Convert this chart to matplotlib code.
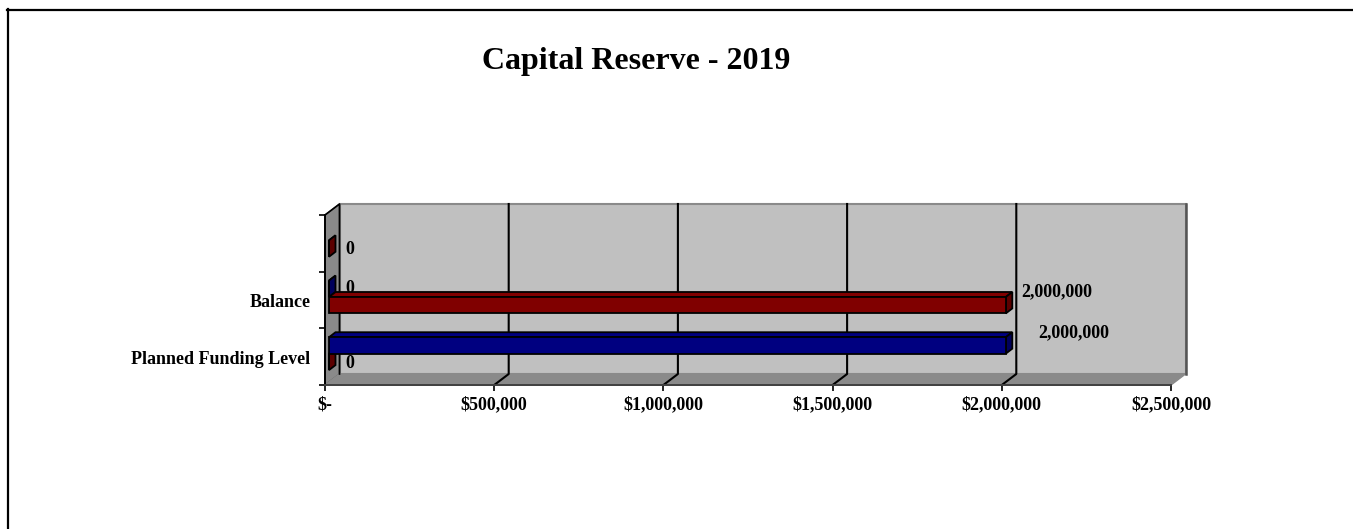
#!/usr/bin/env python3
"""
Capital Reserve bar chart in the old 3D spreadsheet look.
"""
import matplotlib
matplotlib.use('Agg')
import matplotlib.pyplot as plt
from matplotlib.lines import Line2D

categories = ['Planned Funding Level', 'Balance', '']
blue_values = [2000000, 0, None]
red_values = [0, 2000000, 0]
x_ticks = [0, 500000, 1000000, 1500000, 2000000, 2500000]
x_labels = ['$-', '$500,000', '$1,000,000', '$1,500,000', '$2,000,000',
            '$2,500,000']
title = 'Capital Reserve - 2019'

W, H = 1353, 529
LEFT, RIGHT, TOP, BOTTOM = 325, 1171, 215, 385

plt.rcParams['font.family'] = 'Liberation Serif'
plt.rcParams['font.weight'] = 'bold'

fig = plt.figure(figsize=(W / 100, H / 100), dpi=100)
ax = fig.add_axes([LEFT / W, 1 - BOTTOM / H, (RIGHT - LEFT) / W,
                   (BOTTOM - TOP) / H])
XMAX = x_ticks[-1]
YMAX = len(categories)
ax.set_xlim(0, XMAX)
ax.set_ylim(0, YMAX)

# one pixel in data units, the depth offsets below are given in pixels
ux = XMAX / (RIGHT - LEFT)
uy = YMAX / (BOTTOM - TOP)
WALL_DX, WALL_DY = 14.5 * ux, 11 * uy
BAR_DX, BAR_DY = 4 * ux, 3 * uy
BAR_DEPTH_X, BAR_DEPTH_Y = 6.5 * ux, 5 * uy
BAR_H = 0.29

for s in ['top', 'right']:
    ax.spines[s].set_visible(False)
ax.spines['left'].set_linewidth(1.4)
ax.spines['bottom'].set_linewidth(1.4)
ax.spines['bottom'].set_color('#404040')
ax.patch.set_visible(False)

# walls and floor
grey = '#8a8a8a'
ax.fill([WALL_DX, XMAX + WALL_DX, XMAX + WALL_DX, WALL_DX],
        [WALL_DY, WALL_DY, YMAX + WALL_DY, YMAX + WALL_DY],
        facecolor='#c0c0c0', edgecolor=grey, linewidth=1.5, clip_on=False,
        zorder=1)
ax.fill([0, WALL_DX, WALL_DX, 0], [0, WALL_DY, YMAX + WALL_DY, YMAX],
        facecolor=grey, edgecolor='#555555', linewidth=1, clip_on=False,
        zorder=1)
ax.fill([0, XMAX, XMAX + WALL_DX, WALL_DX], [0, 0, WALL_DY, WALL_DY],
        facecolor=grey, edgecolor=grey, linewidth=1, clip_on=False, zorder=1)
ax.plot([XMAX + WALL_DX] * 2, [WALL_DY, YMAX + WALL_DY], color='#555555',
        linewidth=1.8, clip_on=False, zorder=1.5)

# gridlines on the wall and floor
for t in x_ticks[1:-1]:
    ax.plot([t, t + WALL_DX, t + WALL_DX], [0, WALL_DY, YMAX + WALL_DY],
            color='black', linewidth=1.5, clip_on=False, zorder=2)
ax.plot([0, WALL_DX, WALL_DX], [YMAX, YMAX + WALL_DY, WALL_DY], color='black',
        linewidth=1.2, clip_on=False, zorder=2)


def draw_bar(y, value, front, side):
    """Draws one bar with its top and side faces, y is the bottom edge."""
    x0 = BAR_DX
    x1 = value + BAR_DX
    y0 = y + BAR_DY
    y1 = y0 + BAR_H
    dx, dy = BAR_DEPTH_X, BAR_DEPTH_Y
    style = dict(edgecolor='black', linewidth=1.3, clip_on=False, zorder=4)
    ax.fill([x0, x1, x1 + dx, x0 + dx], [y1, y1, y1 + dy, y1 + dy],
            facecolor=front, **style)
    ax.fill([x1, x1 + dx, x1 + dx, x1], [y0, y0 + dy, y1 + dy, y1],
            facecolor=side, **style)
    ax.barh(y0, value, BAR_H, left=x0, align='edge', color=front,
            edgecolor='black', linewidth=1.3, clip_on=False, zorder=4)


# zero bars go first so that the long ones cover them
bars = []
for i in range(len(categories)):
    if red_values[i] is not None:
        bars.append((red_values[i], i + 0.5 - BAR_H, '#800000', '#5c0000'))
    if blue_values[i] is not None:
        bars.append((blue_values[i], i + 0.5, '#000080', '#00005c'))
for value, y, front, side in sorted(bars, key=lambda b: b[0]):
    draw_bar(y, value, front, side)

# data labels
label_font = 13
ax.text(red_values[0] + 25 * ux, 0.5 - 6.5 * uy, f'{red_values[0]:,}',
        fontsize=label_font, ha='center', va='center', zorder=3)
ax.text(blue_values[0] + 72 * ux, 0.5 + 23.5 * uy, f'{blue_values[0]:,}',
        fontsize=label_font, ha='center', va='center', zorder=3)
ax.text(blue_values[1] + 25 * ux, 1.5 + 11.5 * uy, f'{blue_values[1]:,}',
        fontsize=label_font, ha='center', va='center', zorder=3)
ax.text(red_values[1] + 55 * ux, 1.5 + 8.5 * uy, f'{red_values[1]:,}',
        fontsize=label_font, ha='center', va='center', zorder=3)
ax.text(red_values[2] + 25 * ux, 2.5 - 6 * uy, f'{red_values[2]:,}',
        fontsize=label_font, ha='center', va='center', zorder=3)

# ticks
ax.set_xticks(x_ticks)
ax.set_xticklabels(x_labels, fontsize=label_font)
ax.set_yticks(range(YMAX + 1))
ax.set_yticklabels([])
ax.set_yticks([i + 0.5 - uy for i in range(YMAX)], categories, minor=True,
              fontsize=label_font)
ax.tick_params(axis='x', length=4, width=1.2, pad=4.3)
ax.tick_params(axis='y', which='major', length=4, width=1.2)
ax.tick_params(axis='y', which='minor', length=0, pad=10.5)

fig.text(636.5 / W, 1 - 61 / H, title, fontsize=23, ha='center', va='center')

# chart frame, cut by the image on the right and at the bottom
fig.add_artist(Line2D([8 / W, 8 / W], [0, 1 - 9 / H], color='black',
                      linewidth=1.6))
fig.add_artist(Line2D([7 / W, 1], [1 - 10 / H, 1 - 10 / H], color='black',
                      linewidth=1.6))

fig.savefig('out.png', dpi=100)
